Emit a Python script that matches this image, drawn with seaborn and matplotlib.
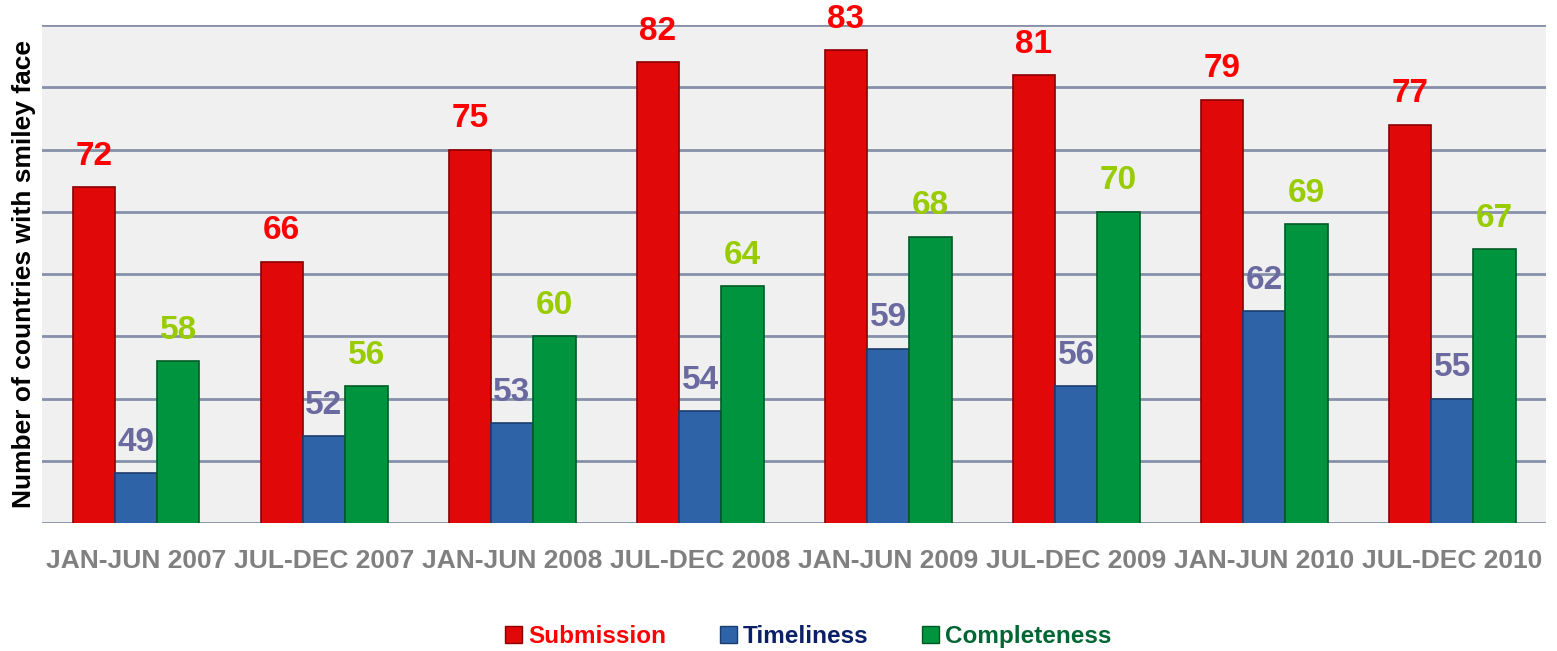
import matplotlib
matplotlib.use("Agg")
import matplotlib.pyplot as plt
import seaborn as sns
import pandas as pd
from matplotlib.patches import Patch

periods = ["JAN-JUN 2007", "JUL-DEC 2007", "JAN-JUN 2008", "JUL-DEC 2008",
           "JAN-JUN 2009", "JUL-DEC 2009", "JAN-JUN 2010", "JUL-DEC 2010"]
submission = [72, 66, 75, 82, 83, 81, 79, 77]
timeliness = [49, 52, 53, 54, 59, 56, 62, 55]
completeness = [58, 56, 60, 64, 68, 70, 69, 67]
series_names = ["Submission", "Timeliness", "Completeness"]

bar_colors = ["#E00808", "#2F63A8", "#00943E"]
edge_colors = ["#8A0000", "#1B3D6E", "#005A25"]
value_colors = ["#FF0000", "#6A6AA0", "#99CC00"]
legend_text_colors = ["#FF0000", "#0A1F66", "#006633"]

rows = []
for name, vals in zip(series_names, [submission, timeliness, completeness]):
    for p, v in zip(periods, vals):
        rows.append({"Period": p, "Series": name, "Value": v})
df = pd.DataFrame(rows)

sns.set_theme(style="white")
plt.rcParams["font.family"] = ["Liberation Sans", "DejaVu Sans"]

fig = plt.figure(figsize=(15.57, 6.51), dpi=100)
ax = fig.add_axes([0.027, 0.1966, 0.966, 0.765])
ax.set_facecolor("#F0F0F0")

sns.barplot(data=df, x="Period", y="Value", hue="Series", order=periods,
            hue_order=series_names, palette=bar_colors, width=0.675,
            errorbar=None, ax=ax, legend=False, saturation=1)

for cont, ec, vc in zip(ax.containers, edge_colors, value_colors):
    for bar in cont:
        bar.set_edgecolor(ec)
        bar.set_linewidth(1.2)
        bar.set_zorder(3)
    ax.bar_label(cont, fmt="%d", padding=11, color=vc, fontsize=24,
                 fontweight="bold")

ax.set_ylim(45, 85)
ax.set_yticks(range(45, 86, 5))
ax.yaxis.grid(True, color="#8790A8", linewidth=2)
ax.set_axisbelow(True)
ax.tick_params(axis="y", left=False, labelleft=False)
ax.tick_params(axis="x", bottom=False, pad=13)
for lab in ax.get_xticklabels():
    lab.set_color("#808080")
    lab.set_fontweight("bold")
    lab.set_fontsize(19)
for s in ax.spines.values():
    s.set_visible(False)
ax.set_xlabel("")
ax.set_ylabel("Number of countries with smiley face", fontsize=19,
              fontweight="bold", color="black", labelpad=4)
ax.set_xlim(-0.5, len(periods) - 0.5)

handles = [Patch(facecolor=c, edgecolor=e) for c, e in zip(bar_colors, edge_colors)]
leg = fig.legend(handles, series_names, loc="center", bbox_to_anchor=(0.519, 0.022),
                 ncol=3, frameon=False, handlelength=0.7, handleheight=0.7,
                 handletextpad=0.25, columnspacing=2.2,
                 prop={"size": 17.5, "weight": "bold"},
                 labelcolor=legend_text_colors)

fig.savefig("out.png", dpi=100)
